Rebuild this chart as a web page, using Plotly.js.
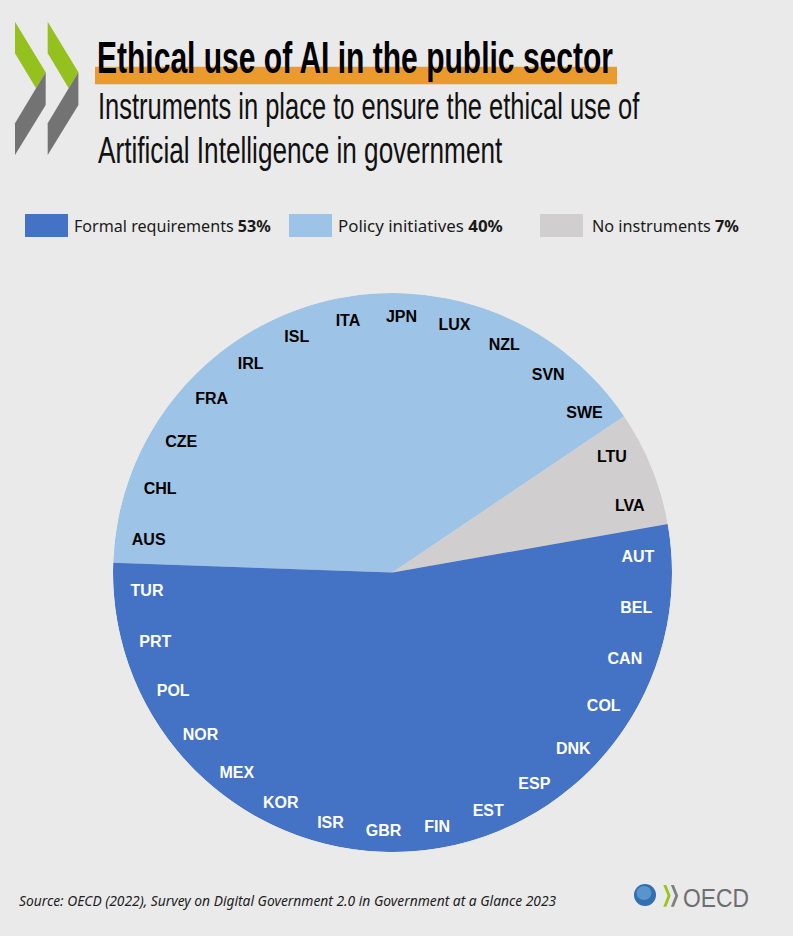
<!DOCTYPE html>
<html>
<head>
<meta charset="utf-8">
<script src="https://cdn.plot.ly/plotly-3.0.1.min.js"></script>
<style>html,body{margin:0;padding:0;background:#EAEAEA;}#chart{width:793px;height:936px;}</style>
</head>
<body>
<div id="chart"></div>
<script>
// ---------- DATA ----------
const groupNames = ['Formal requirements', 'Policy initiatives', 'No instruments'];
const formalCountries = ['AUT','BEL','CAN','COL','DNK','ESP','EST','FIN','GBR','ISR','KOR','MEX','NOR','POL','PRT','TUR'];
const policyCountries = ['AUS','CHL','CZE','FRA','IRL','ISL','ITA','JPN','LUX','NZL','SVN','SWE'];
const noneCountries = ['LTU','LVA'];
const titleText = 'Ethical use of AI in the public sector';
const subtitleLine1 = 'Instruments in place to ensure the ethical use of';
const subtitleLine2 = 'Artificial Intelligence in government';
const sourceText = 'Source: OECD (2022), Survey on Digital Government 2.0 in Government at a Glance 2023';

// ---------- STYLE ----------
const W = 793, H = 936;
const groupColors = ['#4472C4', '#9DC3E6', '#D0CECE'];
const labelColors = ['#FFFFFF', '#000000', '#000000'];
const clockwiseOrder = [1, 2, 0]; // policy, none, formal (clockwise from start)
const startAngle = 178;
const pieR = 279.5;

const groupMembers = [formalCountries, policyCountries, noneCountries];
const total = groupMembers.reduce((s, g) => s + g.length, 0);
const step = 360 / total;

const px = x => x / W;
const py = y => 1 - y / H;
const pathPx = pts => 'M' + pts.map(p => px(p[0]).toFixed(5) + ',' + py(p[1]).toFixed(5)).join('L') + 'Z';

const traces = [];
const lblR = [], lblT = [], lblText = [], lblColor = [];
let offset = 0;
clockwiseOrder.forEach(g => {
  const members = groupMembers[g];
  const n = members.length;
  traces.push({
    type: 'barpolar', name: groupNames[g],
    r: [1], theta: [offset + n * step / 2], width: [n * step],
    marker: {color: groupColors[g], line: {width: 0}},
    hoverinfo: 'skip', showlegend: false
  });
  members.forEach((c, i) => {
    const th = offset + (i + 0.5) * step;
    const a = (startAngle - th) * Math.PI / 180;
    // label placement near the rim, nudged slightly down
    const rr = (257 - 11 * Math.cos(a) ** 2);
    const lx = rr * Math.cos(a), ly = rr * Math.sin(a) - 2.5;
    lblR.push(Math.hypot(lx, ly) / pieR);
    lblT.push(startAngle - Math.atan2(ly, lx) * 180 / Math.PI);
    lblText.push(c);
    lblColor.push(labelColors[g]);
  });
  offset += n * step;
});
traces.push({
  type: 'scatterpolar', mode: 'text', r: lblR, theta: lblT, text: lblText,
  textposition: 'middle center',
  textfont: {family: 'Liberation Sans, Arial, sans-serif', size: 16, color: lblColor, weight: 700},
  hoverinfo: 'skip', showlegend: false
});

// ---------- SHAPES ----------
const shapes = [];
const green = '#95C11F', grey = '#737373';
[0, 32.7].forEach(dx => {
  shapes.push({type: 'path', xref: 'paper', yref: 'paper', layer: 'below', line: {width: 0}, fillcolor: green,
    path: pathPx([[15+dx,21.7],[45.7+dx,72.3],[36+dx,88.3],[15+dx,53.3]])});
  shapes.push({type: 'path', xref: 'paper', yref: 'paper', layer: 'below', line: {width: 0}, fillcolor: grey,
    path: pathPx([[45.7+dx,72.3],[45.7+dx,105],[15+dx,155],[15+dx,123.3],[36+dx,88.3]])});
});
// orange highlight under title
shapes.push({type: 'rect', xref: 'paper', yref: 'paper', layer: 'below', line: {width: 0}, fillcolor: '#EB9B2D',
  x0: px(95), x1: px(617), y0: py(84.3), y1: py(66.7)});
// legend boxes
const legendBoxX = [25, 289, 540];
const legendTextX = [73, 337, 591];
const legendTargetW = [197, 165, 147];
[0, 1, 2].forEach(g => {
  shapes.push({type: 'rect', xref: 'paper', yref: 'paper', layer: 'below', line: {width: 0}, fillcolor: groupColors[g],
    x0: px(legendBoxX[g]), x1: px(legendBoxX[g] + 43), y0: py(237), y1: py(214)});
});
// OECD logo: globe + small chevrons
shapes.push({type: 'circle', xref: 'paper', yref: 'paper', layer: 'below', line: {width: 0}, fillcolor: '#2F6FB3',
  x0: px(634), x1: px(656), y0: py(906), y1: py(884)});
shapes.push({type: 'circle', xref: 'paper', yref: 'paper', layer: 'below', line: {width: 0}, fillcolor: '#5B93CC',
  x0: px(636.5), x1: px(651.5), y0: py(900), y1: py(886)});
[[663.3, '#9BC31C'], [670.9, '#7F7F7F']].forEach(([x0, col]) => {
  const y0 = 885;
  shapes.push({type: 'path', xref: 'paper', yref: 'paper', layer: 'below', line: {width: 0}, fillcolor: col,
    path: pathPx([[x0,y0],[x0+3,y0],[x0+7.3,y0+10.8],[x0+3,y0+21.7],[x0,y0+21.7],[x0+4.3,y0+10.8]])});
});

// ---------- ANNOTATIONS ----------
const annotations = [];
const targetW = {};
function addText(text, x, yc, font, tw) {
  annotations.push({text, x: px(x), y: py(yc), xref: 'paper', yref: 'paper', xanchor: 'left', yanchor: 'middle',
    showarrow: false, align: 'left', font, borderpad: 0});
  if (tw) targetW[annotations.length - 1] = tw;
}
addText('<b>' + titleText + '</b>', 96, 57, {family: 'Liberation Sans, Arial, sans-serif', size: 45, color: '#000000'}, 516);
addText(subtitleLine1, 97, 106.5, {family: 'Liberation Sans, Arial, sans-serif', size: 37, color: '#111111'}, 542);
addText(subtitleLine2, 97, 150, {family: 'Liberation Sans, Arial, sans-serif', size: 37, color: '#111111'}, 405);
[0, 1, 2].forEach(g => {
  const pct = Math.round(groupMembers[g].length / total * 100);
  addText(groupNames[g] + ' <b>' + pct + '%</b>', legendTextX[g], 226,
    {family: 'Noto Sans, Open Sans, sans-serif', size: 16, color: '#1A1A1A'}, legendTargetW[g]);
});
addText('<i>' + sourceText + '</i>', 18, 899.5, {family: 'Noto Sans, Open Sans, sans-serif', size: 15, color: '#222222'}, 538);
addText('OECD', 682, 897.5, {family: 'Liberation Sans, Arial, sans-serif', size: 25, color: '#6D6E70'}, 66);

const layout = {
  width: W, height: H,
  margin: {l: 0, r: 0, t: 0, b: 0},
  paper_bgcolor: '#EAEAEA',
  plot_bgcolor: '#EAEAEA',
  showlegend: false,
  polar: {
    domain: {x: [113 / W, 672 / W], y: [84 / H, 643 / H]},
    bgcolor: 'rgba(0,0,0,0)',
    bargap: 0,
    radialaxis: {visible: false, range: [0, 1]},
    angularaxis: {visible: false, showgrid: false, direction: 'clockwise', rotation: startAngle}
  },
  shapes, annotations
};

Plotly.newPlot('chart', traces, layout, {displayModeBar: false, staticPlot: true}).then(gd => {
  gd.querySelectorAll('g.annotation').forEach(g => {
    const idx = +g.getAttribute('data-index');
    const tw = targetW[idx];
    if (!tw) return;
    const t = g.querySelector('text.annotation-text');
    if (!t) return;
    const bb = t.getBBox();
    if (!bb.width) return;
    const s = tw / bb.width;
    t.setAttribute('transform', `translate(${bb.x},0) scale(${s},1) translate(${-bb.x},0)`);
  });
});
</script>
</body>
</html>
